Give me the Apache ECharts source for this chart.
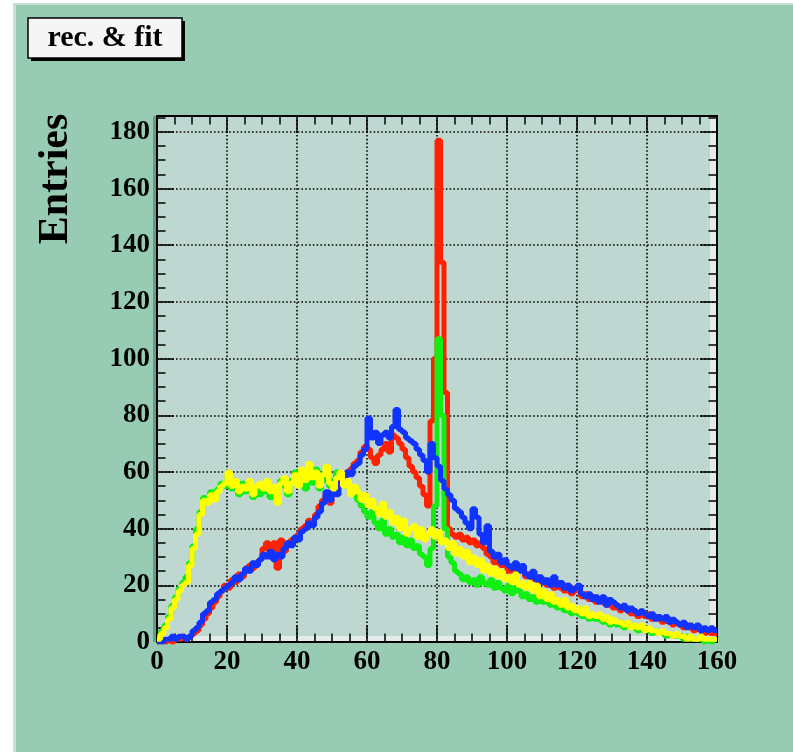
<!DOCTYPE html>
<html>
<head>
<meta charset="utf-8">
<title>rec. & fit</title>
<script src="https://cdn.jsdelivr.net/npm/echarts@6.0.0/dist/echarts.min.js"></script>
<style>
  html, body { margin: 0; padding: 0; background: #ffffff; }
  #chart { width: 793px; height: 752px; }
</style>
</head>
<body>
<div id="chart"></div>
<script>
// histogram bins of width 1, from 0 to 160
const binLow = 0;
const binWidth = 1;

const xTicks = [0, 20, 40, 60, 80, 100, 120, 140, 160];
const yTicks = [0, 20, 40, 60, 80, 100, 120, 140, 160, 180];

const redCounts = [
  0, 0, 0, 1, 0, 1, 1, 2, 1, 2, 3, 4, 6, 8, 10, 12, 14, 16, 18, 20,
  19, 22, 21, 24, 23, 25, 27, 26, 28, 29, 33, 35, 30, 35, 26, 36, 32, 34, 36, 37,
  38, 40, 41, 43, 42, 45, 48, 50, 52, 49, 53, 56, 58, 57, 60, 61, 63, 64, 67, 69,
  68, 65, 63, 66, 68, 70, 67, 73, 72, 70, 68, 65, 62, 60, 58, 55, 52, 48, 78, 100,
  177, 134, 88, 40, 38, 37, 38, 36, 37, 35, 36, 34, 35, 33, 31, 30, 28, 29, 27, 28,
  25, 26, 24, 25, 26, 23, 24, 22, 23, 21, 22, 20, 21, 19, 21, 19, 18, 20, 17, 19,
  18, 16, 17, 15, 16, 14, 15, 14, 13, 14, 12, 13, 11, 12, 11, 10, 11, 9, 10, 9,
  10, 8, 9, 8, 7, 8, 7, 6, 7, 6, 5, 6, 5, 4, 5, 4, 3, 4, 3, 3
];

const greenCounts = [
  2, 4, 6, 9, 13, 16, 19, 21, 23, 28, 34, 40, 46, 51, 50, 53, 51, 54, 56, 55,
  59, 54, 56, 52, 56, 53, 55, 51, 54, 52, 53, 55, 51, 53, 50, 57, 55, 52, 57, 60,
  56, 58, 54, 59, 56, 61, 54, 57, 60, 55, 57, 60, 58, 55, 56, 53, 52, 50, 48, 46,
  44, 46, 42, 40, 43, 38, 40, 37, 38, 35, 37, 34, 36, 33, 34, 31, 30, 27, 33, 48,
  107, 80, 40, 30, 28, 25, 24, 22, 23, 21, 22, 20, 23, 21, 20, 22, 19, 21, 19, 18,
  20, 17, 19, 18, 16, 17, 15, 16, 14, 16, 14, 15, 13, 14, 12, 13, 11, 12, 10, 11,
  10, 9, 10, 8, 9, 8, 8, 7, 8, 6, 7, 6, 7, 5, 6, 5, 5, 4, 5, 4,
  4, 3, 4, 3, 3, 2, 3, 2, 2, 2, 1, 2, 1, 1, 1, 1, 0, 1, 0, 1
];

const blueCounts = [
  0, 0, 1, 1, 2, 1, 2, 2, 1, 2, 4, 5, 7, 10, 11, 14, 15, 17, 18, 19,
  20, 21, 23, 22, 24, 26, 25, 28, 27, 29, 31, 30, 32, 29, 31, 30, 33, 35, 34, 37,
  36, 39, 40, 42, 41, 44, 46, 49, 53, 50, 55, 52, 56, 57, 60, 59, 62, 63, 66, 68,
  79, 72, 74, 70, 73, 74, 72, 76, 82, 75, 74, 72, 71, 70, 68, 66, 64, 60, 70, 65,
  62, 57, 54, 52, 50, 47, 46, 44, 42, 40, 47, 44, 38, 35, 41, 32, 30, 31, 28, 29,
  27, 26, 28, 25, 27, 24, 23, 25, 22, 23, 21, 22, 20, 23, 20, 21, 19, 20, 18, 19,
  20, 17, 16, 17, 15, 16, 14, 16, 13, 15, 14, 13, 12, 13, 11, 12, 11, 10, 11, 10,
  9, 10, 8, 9, 8, 9, 7, 8, 7, 6, 7, 5, 6, 5, 6, 4, 5, 4, 5, 4
];

const yellowCounts = [
  1, 3, 5, 8, 12, 15, 18, 20, 21, 27, 33, 38, 45, 50, 49, 52, 50, 53, 55, 56,
  60, 55, 57, 53, 55, 54, 57, 52, 55, 56, 54, 57, 53, 55, 49, 56, 58, 53, 56, 59,
  55, 61, 57, 63, 58, 60, 55, 59, 62, 56, 54, 58, 60, 55, 57, 52, 55, 53, 50, 52,
  48, 50, 47, 45, 49, 44, 46, 42, 44, 40, 43, 38, 40, 41, 37, 40, 36, 38, 40, 37,
  39, 35, 36, 33, 35, 31, 33, 30, 32, 28, 30, 27, 29, 25, 27, 24, 26, 23, 25, 22,
  23, 21, 24, 20, 21, 19, 21, 18, 20, 16, 18, 15, 17, 14, 15, 13, 15, 12, 13, 11,
  12, 10, 12, 9, 10, 9, 10, 8, 9, 7, 8, 7, 7, 6, 7, 5, 6, 5, 6, 4,
  5, 4, 4, 3, 4, 3, 3, 2, 3, 2, 2, 1, 2, 1, 1, 2, 1, 1, 1, 1
];

const histograms = [
  { name: 'red', color: '#ff2200', counts: redCounts },
  { name: 'green', color: '#11ee11', counts: greenCounts },
  { name: 'blue', color: '#1133ff', counts: blueCounts },
  { name: 'yellow', color: '#ffff00', counts: yellowCounts }
];

const xMin = xTicks[0];
const xMax = xTicks[xTicks.length - 1];
const yMin = yTicks[0];
const yMax = 185.6;
const yStep = yTicks[1] - yTicks[0];

const labelFont = {
  fontFamily: 'Liberation Serif',
  fontWeight: 'bold',
  fontSize: 27,
  color: '#000000'
};

// frame position in pixels
const frame = { left: 157, top: 116, right: 717, bottom: 642 };

// bins -> step points (lower edges, plus the last upper edge)
function toSteps(counts) {
  const pts = counts.map((v, i) => [binLow + i * binWidth, v]);
  pts.push([binLow + counts.length * binWidth, counts[counts.length - 1]]);
  return pts;
}

const chart = echarts.init(document.getElementById('chart'), null, { renderer: 'canvas' });

const majorTick = { show: true, inside: true, length: 17, lineStyle: { color: '#000', width: 1.5 } };
const shortTick = { show: true, inside: true, length: 8.5, lineStyle: { color: '#000', width: 1.5 } };
const minorTick = { show: true, splitNumber: 4, length: 8.5, lineStyle: { color: '#000', width: 1.5 } };
const dotted = { show: true, lineStyle: { color: '#000', width: 1.6, type: [1.6, 2.2] } };
const blackLine = { show: true, onZero: false, lineStyle: { color: '#000', width: 2 } };
const noLine = { show: false, onZero: false };

const option = {
  backgroundColor: '#ffffff',
  animation: false,
  grid: {
    left: frame.left,
    top: frame.top,
    width: frame.right - frame.left,
    height: frame.bottom - frame.top,
    show: false
  },
  xAxis: [
    {
      type: 'value', position: 'bottom', min: xMin, max: xMax, interval: 20,
      axisLine: blackLine, axisTick: majorTick, minorTick: minorTick,
      axisLabel: Object.assign({ margin: 7 }, labelFont),
      splitLine: dotted
    },
    {
      type: 'value', position: 'top', min: xMin, max: xMax, interval: 20,
      axisLine: blackLine, axisTick: majorTick, minorTick: minorTick,
      axisLabel: { show: false }, splitLine: { show: false }
    }
  ],
  yAxis: [
    {
      type: 'value', position: 'left', min: yMin, max: yMax, interval: yStep,
      axisLine: blackLine, axisTick: majorTick,
      axisLabel: Object.assign({ margin: 7, showMaxLabel: false }, labelFont),
      splitLine: dotted
    },
    {
      type: 'value', position: 'right', min: yMin, max: yMax, interval: yStep,
      axisLine: blackLine, axisTick: majorTick,
      axisLabel: { show: false }, splitLine: { show: false }
    },
    // minor ticks every 5
    {
      type: 'value', position: 'left', min: yMin, max: yMax, interval: yStep / 4,
      axisLine: noLine, axisTick: shortTick,
      axisLabel: { show: false }, splitLine: { show: false }
    },
    {
      type: 'value', position: 'right', min: yMin, max: yMax, interval: yStep / 4,
      axisLine: noLine, axisTick: shortTick,
      axisLabel: { show: false }, splitLine: { show: false }
    }
  ],
  graphic: [
    // pad
    { type: 'rect', z: -10, shape: { x: 13, y: 3, width: 780, height: 749 }, style: { fill: '#97cbb3' } },
    { type: 'rect', z: -9, shape: { x: 13, y: 3, width: 3, height: 749 }, style: { fill: '#c4e2d4' } },
    { type: 'rect', z: -9, shape: { x: 13, y: 3, width: 780, height: 2 }, style: { fill: '#c4e2d4' } },
    // frame
    { type: 'rect', z: -8, shape: { x: frame.left, y: frame.top, width: frame.right - frame.left, height: frame.bottom - frame.top }, style: { fill: '#bed8d1' } },
    { type: 'rect', z: -7, shape: { x: frame.left, y: frame.bottom - 6, width: frame.right - frame.left, height: 6 }, style: { fill: '#e3ecea' } },
    { type: 'rect', z: -7, shape: { x: frame.right - 7, y: frame.top, width: 7, height: frame.bottom - frame.top }, style: { fill: '#e3ecea' } },
    { type: 'rect', z: -7, shape: { x: frame.left - 4, y: frame.top, width: 4, height: frame.bottom - frame.top }, style: { fill: '#5f9f8b' } },
    // title box
    { type: 'rect', z: 10, shape: { x: 31, y: 21, width: 154, height: 40 }, style: { fill: '#000' } },
    { type: 'rect', z: 11, shape: { x: 28, y: 18, width: 154, height: 40 }, style: { fill: '#f5f5f5', stroke: '#000', lineWidth: 1.5 } },
    {
      type: 'text', z: 12, x: 105, y: 38,
      style: {
        text: 'rec. & fit', fill: '#000',
        font: 'bold 30px "Liberation Serif"',
        textAlign: 'center', textVerticalAlign: 'middle'
      }
    },
    // y axis title
    {
      type: 'text', z: 12, x: 56, y: 179, rotation: Math.PI / 2,
      style: {
        text: 'Entries', fill: '#000',
        font: 'bold 42px "Liberation Serif"',
        textAlign: 'center', textVerticalAlign: 'middle'
      }
    }
  ],
  series: histograms.map((h, i) => ({
    name: h.name,
    type: 'line',
    step: 'end',
    xAxisIndex: 0,
    yAxisIndex: 0,
    showSymbol: false,
    z: 3 + i,
    lineStyle: { color: h.color, width: 5 },
    data: toSteps(h.counts)
  }))
};

chart.setOption(option);
</script>
</body>
</html>
